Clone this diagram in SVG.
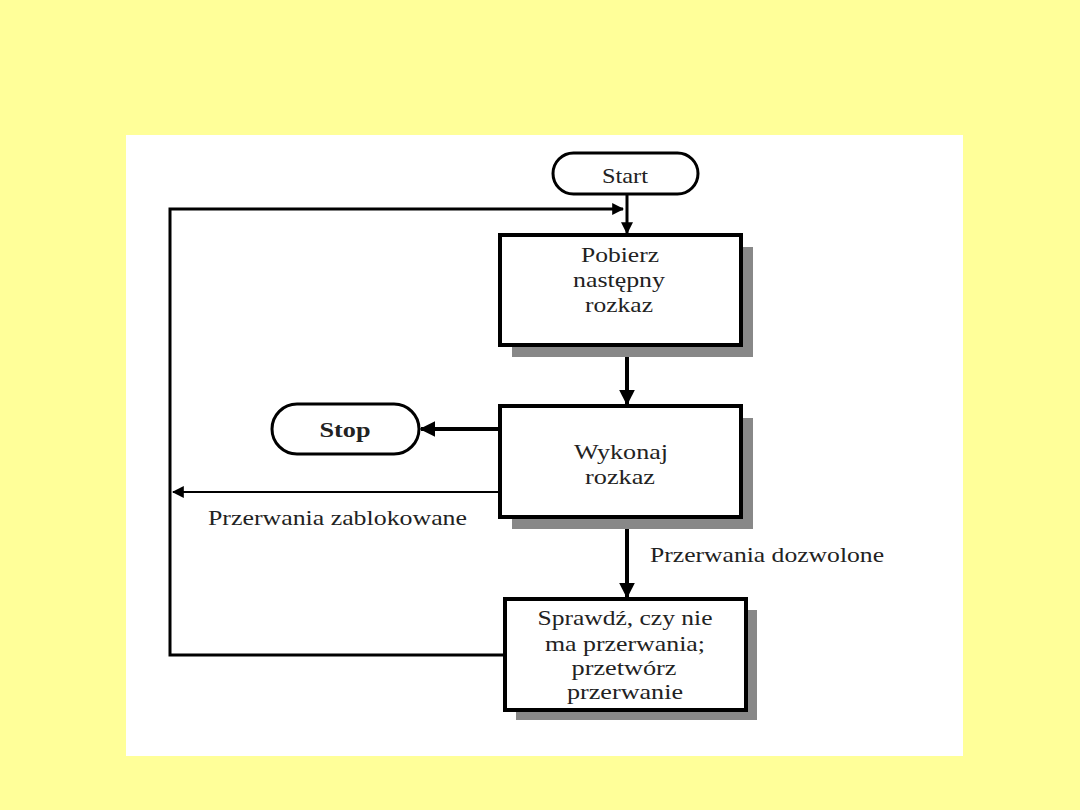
<svg xmlns="http://www.w3.org/2000/svg" width="1080" height="810" viewBox="0 0 1080 810">
<defs>
<style>
.box{fill:#fff;stroke:#000;stroke-width:4}
.sh{fill:#888}
.term{fill:#fff;stroke:#000;stroke-width:3}
.t{font-family:"Liberation Serif",serif;font-size:21px;fill:#222;text-anchor:middle}
.lbl{font-family:"Liberation Serif",serif;font-size:21px;fill:#222}
.c{fill:none;stroke:#000}
</style>
<marker id="ah" viewBox="0 0 10 10" refX="9" refY="5" markerWidth="4" markerHeight="4" orient="auto" markerUnits="strokeWidth"><path d="M0,0L10,5L0,10z" fill="#000"/></marker>
<marker id="ahs" viewBox="0 0 10 10" refX="9" refY="5" markerWidth="6" markerHeight="6" orient="auto" markerUnits="strokeWidth"><path d="M0,0L10,5L0,10z" fill="#000"/></marker>
</defs>
<rect width="1080" height="810" fill="#ffff99"/>
<rect x="126" y="135" width="837" height="621" fill="#fff"/>
<g id="connectors">
<path class="c" stroke-width="3" d="M627,194V233" marker-end="url(#ah)"/>
<path class="c" stroke-width="3" d="M505,655H170V209H623" marker-end="url(#ah)"/>
<path class="c" stroke-width="4" d="M627,345V404" marker-end="url(#ah)"/>
<path class="c" stroke-width="4" d="M500,429H421" marker-end="url(#ah)"/>
<path class="c" stroke-width="2" d="M500,492H173" marker-end="url(#ahs)"/>
<path class="c" stroke-width="4" d="M627,517V597" marker-end="url(#ah)"/>
<text class="lbl" x="208" y="525" textLength="259" lengthAdjust="spacingAndGlyphs">Przerwania zablokowane</text>
<text class="lbl" x="650" y="562" textLength="234" lengthAdjust="spacingAndGlyphs">Przerwania dozwolone</text>
</g>
<g id="start">
<rect class="term" x="553" y="153" width="145" height="41" rx="20.5"/>
<text class="t" x="625" y="183" textLength="46" lengthAdjust="spacingAndGlyphs">Start</text>
</g>
<g id="pobierz">
<rect class="sh" x="512" y="247" width="241" height="110"/>
<rect class="box" x="500" y="235" width="241" height="110"/>
<text class="t" x="620" y="262" textLength="78" lengthAdjust="spacingAndGlyphs">Pobierz</text>
<text class="t" x="619" y="287" textLength="92" lengthAdjust="spacingAndGlyphs">następny</text>
<text class="t" x="619" y="312" textLength="68" lengthAdjust="spacingAndGlyphs">rozkaz</text>
</g>
<g id="stop">
<rect class="term" x="272" y="404" width="147" height="50" rx="25"/>
<text class="t" x="345" y="437" font-weight="bold" textLength="51" lengthAdjust="spacingAndGlyphs">Stop</text>
</g>
<g id="wykonaj">
<rect class="sh" x="512" y="418" width="241" height="111"/>
<rect class="box" x="500" y="406" width="241" height="111"/>
<text class="t" x="621" y="459" textLength="94" lengthAdjust="spacingAndGlyphs">Wykonaj</text>
<text class="t" x="620" y="484" textLength="70" lengthAdjust="spacingAndGlyphs">rozkaz</text>
</g>
<g id="sprawdz">
<rect class="sh" x="516" y="610" width="241" height="110"/>
<rect class="box" x="505" y="599" width="241" height="111"/>
<text class="t" x="625" y="625" textLength="175" lengthAdjust="spacingAndGlyphs">Sprawdź, czy nie</text>
<text class="t" x="625" y="651" textLength="160" lengthAdjust="spacingAndGlyphs">ma przerwania;</text>
<text class="t" x="624" y="675" textLength="105" lengthAdjust="spacingAndGlyphs">przetwórz</text>
<text class="t" x="625" y="699" textLength="116" lengthAdjust="spacingAndGlyphs">przerwanie</text>
</g>
</svg>
